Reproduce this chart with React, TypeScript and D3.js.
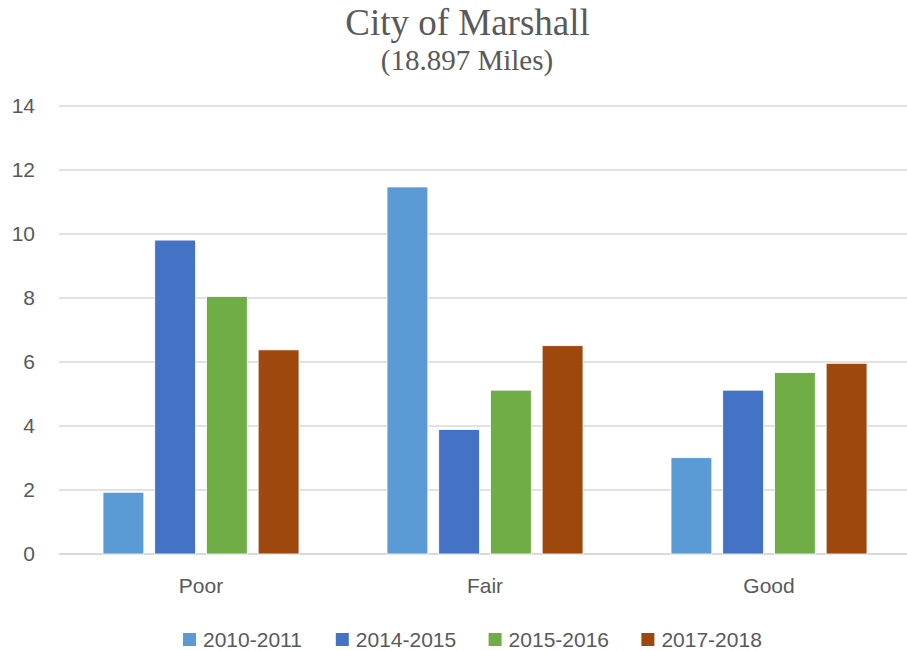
import React from "react";
import * as d3 from "d3";

const categories = ["Poor", "Fair", "Good"];
const seriesNames = ["2010-2011", "2014-2015", "2015-2016", "2017-2018"];
const s2010 = [1.93, 11.47, 3.01];
const s2014 = [9.81, 3.89, 5.12];
const s2015 = [8.05, 5.12, 5.67];
const s2017 = [6.38, 6.51, 5.96];
const seriesValues = [s2010, s2014, s2015, s2017];
const colors = ["#5B9BD5", "#4472C4", "#70AD47", "#9E480E"];
const yTicks = [0, 2, 4, 6, 8, 10, 12, 14];
const title = "City of Marshall";
const subtitle = "(18.897 Miles)";

const W = 907;
const H = 651;

export default function App() {
  const x0 = d3.scaleBand<string>().domain(categories).range([59, 911]).padding(0);
  const x1 = d3
    .scaleBand<string>()
    .domain(seriesNames)
    .range([-98, 98])
    .paddingInner(0.21)
    .paddingOuter(0);
  const y = d3.scaleLinear().domain([0, 14]).range([554, 106]);
  const sans = "'Liberation Sans', Arial, sans-serif";
  const grey = "#595959";

  return (
    <svg
      width={W}
      height={H}
      style={{ position: "absolute", left: 0, top: 0, background: "#fff" }}
    >
      <rect x={0} y={0} width={W} height={H} fill="#fff" />
      <text
        x={467.5}
        y={34.5}
        textAnchor="middle"
        fontFamily="'Liberation Serif', 'Times New Roman', serif"
        fontSize={37}
        fill={grey}
      >
        {title}
      </text>
      <text
        x={467}
        y={70}
        textAnchor="middle"
        fontFamily="'Liberation Serif', 'Times New Roman', serif"
        fontSize={29}
        fill={grey}
      >
        {subtitle}
      </text>
      {yTicks.map((t) => (
        <g key={t}>
          <line
            x1={59}
            x2={911}
            y1={y(t)}
            y2={y(t)}
            stroke="#d9d9d9"
            strokeWidth={t === 0 ? 2 : 1.5}
          />
          <text
            x={35}
            y={y(t)}
            dy="0.35em"
            textAnchor="end"
            fontFamily={sans}
            fontSize={21}
            fill={grey}
          >
            {t}
          </text>
        </g>
      ))}
      {categories.map((c, ci) => {
        const cx = (x0(c) ?? 0) + x0.bandwidth() / 2;
        return (
          <g key={c}>
            {seriesNames.map((s, si) => {
              const v = seriesValues[si][ci];
              return (
                <rect
                  key={s}
                  x={cx + (x1(s) ?? 0)}
                  y={y(v)}
                  width={x1.bandwidth()}
                  height={y(0) - y(v)}
                  fill={colors[si]}
                  stroke="#fff"
                  strokeWidth={0.8}
                />
              );
            })}
            <text
              x={cx}
              y={593}
              textAnchor="middle"
              fontFamily={sans}
              fontSize={21}
              fill={grey}
            >
              {c}
            </text>
          </g>
        );
      })}
      {seriesNames.map((s, si) => {
        const lx = 183 + si * 152.8;
        return (
          <g key={s}>
            <rect x={lx} y={633} width={13} height={13} fill={colors[si]} />
            <text x={lx + 20} y={646.5} fontFamily={sans} fontSize={21} fill={grey}>
              {s}
            </text>
          </g>
        );
      })}
    </svg>
  );
}
